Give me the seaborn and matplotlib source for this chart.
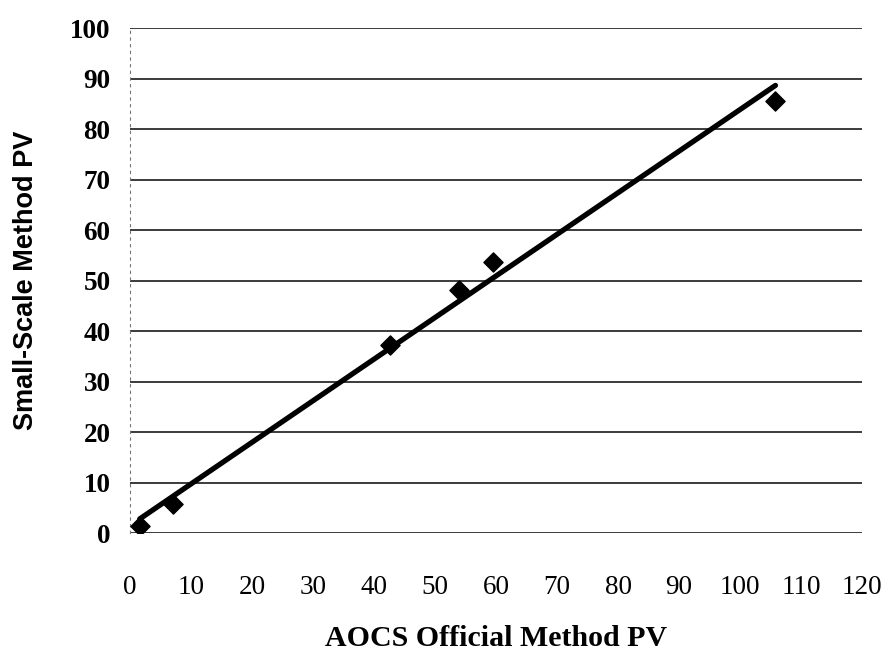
import numpy as np
import pandas as pd
import matplotlib
matplotlib.use("Agg")
import matplotlib.pyplot as plt
import seaborn as sns

# AOCS official method vs small-scale method peroxide values
aocs_pv = [1.6, 7.0, 42.7, 53.9, 59.5, 105.8]
small_scale_pv = [1.3, 5.8, 37.2, 48.1, 53.7, 85.6]
x_ticks = list(range(0, 121, 10))
y_ticks = list(range(0, 101, 10))

df = pd.DataFrame({"aocs": aocs_pv, "small": small_scale_pv})

sns.set_style("white")
plt.rcParams['font.family'] = ['Liberation Serif', 'DejaVu Serif']
plt.rcParams['text.color'] = 'black'
plt.rcParams['axes.labelcolor'] = 'black'
plt.rcParams['xtick.color'] = 'black'
plt.rcParams['ytick.color'] = 'black'

fig = plt.figure(figsize=(8.86, 6.52), dpi=100)
ax = fig.add_axes([0.1467, 0.1825, 0.8263, 0.7745])

ax.set_axisbelow(True)
for yt in y_ticks:
    ax.axhline(yt, color="#1a1a1a", lw=1.2, zorder=0)

sns.regplot(data=df, x="aocs", y="small", ci=None, ax=ax,
            marker="D",
            scatter_kws={"s": 95, "color": "black", "edgecolor": "black",
                         "alpha": 1, "zorder": 3},
            line_kws={"color": "black", "lw": 3.8, "zorder": 2})

ax.set_xlim(0, 120)
ax.set_ylim(0, 100)
ax.set_xticks(x_ticks)
ax.set_yticks(y_ticks)
ax.tick_params(axis="x", length=0, pad=30, labelsize=19.5)
ax.tick_params(axis="y", length=0, pad=14, labelsize=19.5)
for lab in ax.get_yticklabels():
    lab.set_fontweight("bold")

for side in ["top", "right", "bottom"]:
    ax.spines[side].set_visible(False)
ax.spines["left"].set_linestyle((0, (2, 4)))
ax.spines["left"].set_color("#777777")
ax.spines["left"].set_linewidth(0.8)

ax.set_xlabel("AOCS Official Method PV", fontsize=21.5, fontweight="bold", labelpad=18)
ax.set_ylabel("Small-Scale Method PV", fontsize=19.5, fontweight="bold",
              family=["Liberation Sans", "DejaVu Sans"], labelpad=22)

fig.savefig("out.png", dpi=100)
